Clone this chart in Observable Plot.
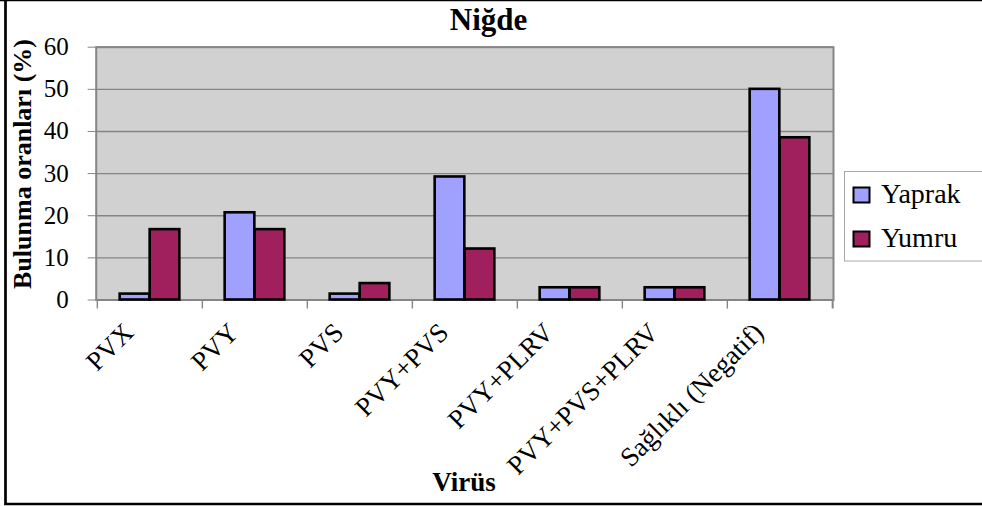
<!DOCTYPE html>
<html><head><meta charset="utf-8">
<script src="https://cdn.jsdelivr.net/npm/d3@7"></script>
<script src="https://cdn.jsdelivr.net/npm/@observablehq/plot@0.6"></script>
<style>
body{margin:0;background:#fff;}
#wrap{position:relative;width:982px;height:506px;overflow:hidden;font-family:"Liberation Serif","Times New Roman",serif;}
#wrap svg{position:absolute;left:0;top:0;}
#title{position:absolute;left:288.5px;top:4px;width:400px;text-align:center;font-size:31px;line-height:1;font-weight:bold;color:#000;z-index:2;}
</style></head><body><div id="wrap"><div id="title"></div></div>
<script>
const title = "Niğde";
const yLabel = "Bulunma oranları (%)";
const xLabel = "Virüs";
const categories = ["PVX","PVY","PVS","PVY+PVS","PVY+PLRV","PVY+PVS+PLRV","Sağlıklı (Negatif)"];
const seriesNames = ["Yaprak","Yumru"];
const yaprak = [1.4, 20.7, 1.4, 29.2, 2.9, 2.9, 50.0];
const yumru  = [16.7, 16.7, 3.9, 12.1, 2.9, 2.9, 38.5];
const yTicks = [0,10,20,30,40,50,60];
const colors = ["#a0a0ff","#a0205e"];

const rows = categories.map((c,i)=>({virus:c, yaprak:yaprak[i], yumru:yumru[i]}));

const W=982, H=506, mL=95.7, mR=149, mT=46.7, mB=206.5;
const step = (W-mL-mR)/categories.length;
const barW = 30, gap = (step-2*barW)/2;
const font = "Liberation Serif, Times New Roman, serif";
const grid = "#858585";

document.getElementById("title").textContent = title;

const chart = Plot.plot({
  width:W, height:H, marginLeft:mL, marginRight:mR, marginTop:mT, marginBottom:mB,
  style:{fontFamily:font, fontSize:"24px", background:"transparent", overflow:"visible", color:"#000"},
  x:{type:"band", domain:categories, padding:0, label:null},
  y:{domain:[0,60], label:null},
  marks:[
    Plot.frame({fill:"#d1d1d1", stroke:null}),
    Plot.ruleY(yTicks, {stroke:grid, strokeWidth:1.4}),
    Plot.frame({stroke:grid, strokeWidth:2}),
    Plot.barY(rows, {x:"virus", y:"yaprak", fill:colors[0], stroke:"#000", strokeWidth:2.6, insetLeft:gap, insetRight:gap+barW}),
    Plot.barY(rows, {x:"virus", y:"yumru", fill:colors[1], stroke:"#000", strokeWidth:2.6, insetLeft:gap+barW, insetRight:gap}),
    Plot.ruleX(categories, {x:d=>d, dx:-step/2, insetTop:H-mT-mB, insetBottom:-9, stroke:grid, strokeWidth:1.4}),
    Plot.ruleX(categories.slice(-1), {x:d=>d, dx:step/2, insetTop:H-mT-mB, insetBottom:-9, stroke:grid, strokeWidth:2}),
    Plot.axisY(yTicks, {tickSize:8, tickPadding:19.5, fontSize:25, fill:"#000", stroke:grid, label:null}),
    Plot.axisX({tickSize:0, tickRotate:-45, tickPadding:28, dx:-21, fontSize:27, fill:"#000", label:null})
  ]
});
document.getElementById("wrap").appendChild(chart);

const svg = d3.select(chart);
svg.attr("font-family", font).attr("font-size", 24).attr("fill", "#000");
svg.selectAll('g[aria-label="y-axis tick label"]').attr("font-family", font).attr("font-size", 25)
  .selectAll("text").attr("font-family", font).attr("font-size", 25);
svg.selectAll('g[aria-label="x-axis tick label"]').attr("font-family", font).attr("font-size", 27)
  .selectAll("text").attr("font-family", font).attr("font-size", 27);

svg.append("text").attr("transform","translate(30.5,164) rotate(-90)").attr("text-anchor","middle")
  .attr("font-family",font).attr("font-size",26).attr("font-weight","bold").text(yLabel);
svg.append("text").attr("x",464).attr("y",491).attr("text-anchor","middle")
  .attr("font-family",font).attr("font-size",27).attr("font-weight","bold").text(xLabel);
const lg = svg.append("g");
lg.append("rect").attr("x",844.5).attr("y",171.5).attr("width",150).attr("height",89.5)
  .attr("fill","#fff").attr("stroke","#a8a8a8").attr("stroke-width",1);
seriesNames.forEach((s,i)=>{
  const yb = 203 + i*44;
  lg.append("rect").attr("x",853.5).attr("y",yb-15.5).attr("width",16).attr("height",15)
    .attr("fill",colors[i]).attr("stroke","#000").attr("stroke-width",2);
  lg.append("text").attr("x",881).attr("y",yb).attr("text-anchor","start")
    .attr("font-family",font).attr("font-size",28).text(s);
});
svg.append("path").attr("d","M5.5,0V504H990").attr("fill","none").attr("stroke","#000").attr("stroke-width",2.7);
svg.append("path").attr("d","M0,0.5H990").attr("fill","none").attr("stroke","#000").attr("stroke-width",1.5);
</script>
</body></html>
